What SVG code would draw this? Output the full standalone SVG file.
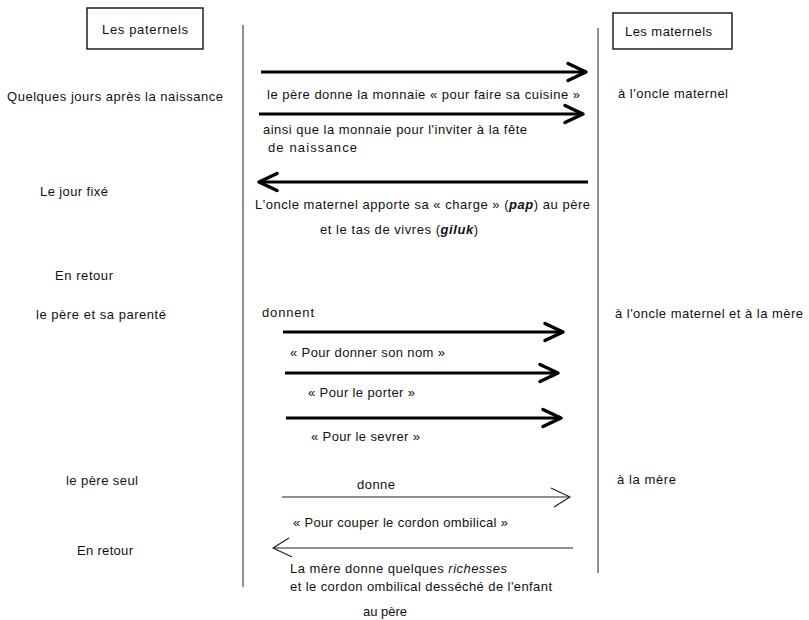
<svg xmlns="http://www.w3.org/2000/svg" width="809" height="620" viewBox="0 0 809 620">
<style>
text{font-family:"Liberation Sans",Arial,sans-serif;font-size:13px;fill:#111}
.box{fill:#fff;stroke:#111;stroke-width:1.4}
.life{stroke:#555;stroke-width:1.3}
.thick{stroke:#000;stroke-width:3;fill:none}
.thin{stroke:#222;stroke-width:1.2;fill:none}
.it{font-style:italic}
.bi{font-style:italic;font-weight:bold}
</style>
<defs>
<marker id="ah" markerUnits="userSpaceOnUse" viewBox="-24 -12 28 24" markerWidth="28" markerHeight="24" refX="0" refY="0" orient="auto" overflow="visible">
<path d="M-18,-8.5 L0,0 L-18,8.5" fill="none" stroke="#000" stroke-width="3.5" stroke-linejoin="round" stroke-linecap="round"/>
</marker>
<marker id="ahThin" markerUnits="userSpaceOnUse" viewBox="-24 -12 28 24" markerWidth="28" markerHeight="24" refX="0" refY="0" orient="auto" overflow="visible">
<path d="M-19,-9 L0,0 L-16,10" fill="none" stroke="#222" stroke-width="1.2" stroke-linejoin="round"/>
</marker>
</defs>
<rect width="809" height="620" fill="#fff"/>

<g id="paternels">
<rect class="box" x="87" y="8" width="116" height="41"/>
<text x="102" y="34" textLength="86">Les paternels</text>
</g>
<g id="maternels">
<rect class="box" x="613" y="13" width="119" height="36"/>
<text x="625" y="36" textLength="87">Les maternels</text>
</g>

<g id="lifelines">
<line class="life" x1="243" y1="25" x2="243" y2="587"/>
<line class="life" x1="598" y1="28" x2="598" y2="573"/>
</g>

<g id="connectors">
<line class="thick" x1="261" y1="72" x2="586" y2="72" marker-end="url(#ah)"/>
<line class="thick" x1="259" y1="114" x2="583" y2="114" marker-end="url(#ah)"/>
<line class="thick" x1="588" y1="182" x2="259" y2="182" marker-end="url(#ah)"/>
<line class="thick" x1="283" y1="332" x2="563" y2="332" marker-end="url(#ah)"/>
<line class="thick" x1="285" y1="373" x2="558" y2="373" marker-end="url(#ah)"/>
<line class="thick" x1="286" y1="418" x2="561" y2="418" marker-end="url(#ah)"/>
<line class="thin" x1="282" y1="497" x2="570" y2="497" marker-end="url(#ahThin)"/>
<line class="thin" x1="573" y1="548" x2="273" y2="548" marker-end="url(#ahThin)"/>
</g>

<g id="left-labels">
<text x="7" y="101" textLength="216">Quelques jours après la naissance</text>
<text x="40" y="196" textLength="68">Le jour fixé</text>
<text x="55" y="280" textLength="58">En retour</text>
<text x="36" y="319" textLength="130">le père et sa parenté</text>
<text x="66" y="485" textLength="72">le père seul</text>
<text x="77" y="555" textLength="56">En retour</text>
</g>

<g id="right-labels">
<text x="618" y="98" textLength="110">à l'oncle maternel</text>
<text x="615" y="318" textLength="188">à l'oncle maternel et à la mère</text>
<text x="617" y="484" textLength="59">à la mère</text>
</g>

<g id="message-labels">
<text x="267" y="99" textLength="313">le père donne la monnaie « pour faire sa cuisine »</text>
<text x="263" y="134" textLength="264">ainsi que la monnaie pour l'inviter à la fête</text>
<text x="268" y="152" textLength="89">de naissance</text>
<text x="255" y="209" textLength="335">L'oncle maternel apporte sa « charge » (<tspan class="bi">pap</tspan>) au père</text>
<text x="320" y="234" textLength="158">et le tas de vivres (<tspan class="bi">giluk</tspan>)</text>
<text x="262" y="317" textLength="52">donnent</text>
<text x="290" y="357" textLength="155">« Pour donner son nom »</text>
<text x="308" y="397" textLength="107">« Pour le porter »</text>
<text x="311" y="441" textLength="109">« Pour le sevrer »</text>
<text x="357" y="489" textLength="38">donne</text>
<text x="293" y="527" textLength="215">« Pour couper le cordon ombilical »</text>
<text x="290" y="573" textLength="217">La mère donne quelques <tspan class="it">richesses</tspan></text>
<text x="290" y="591" textLength="262">et le cordon ombilical desséché de l'enfant</text>
<text x="363" y="616">au père</text>
</g>
</svg>
